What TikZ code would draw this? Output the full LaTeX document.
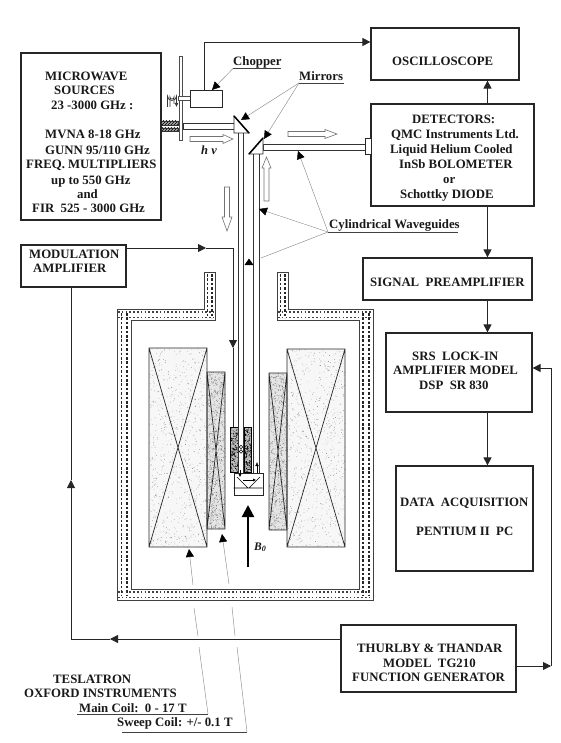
\documentclass[tikz,border=0pt]{standalone}
\usepackage{fontspec}
\setmainfont{Liberation Serif}
\usetikzlibrary{arrows.meta,patterns,calc}
\tikzset{
 boxnode/.style={draw=black!85,line width=1.2pt,inner sep=0pt,fill=white},
 lab/.style={anchor=base west,inner sep=0pt,font=\fontsize{12.8}{13}\selectfont\bfseries,text=black!90},
 flow/.style={draw=black!85,line width=.8pt},
 tip/.style={flow,-{Triangle[length=8pt,width=8pt]}},
 leader/.style={draw=black!45,line width=.45pt},
 leadtip/.style={leader,-{Triangle[length=8pt,width=8pt,black]}},
 ulin/.style={draw=black!75,line width=.9pt},
 wave/.style={draw=black!80,line width=.9pt},
 hollow/.style={draw=black!55,line width=.6pt,fill=white},
 coilx/.style={draw=black!85,line width=.7pt},
 band/.style={draw=black!75,line width=.9pt,fill=white},
 bandd/.style={draw=black!85,line width=1.7pt,dash pattern=on 2.6pt off 1.8pt},
 bandh/.style={draw=black!75,line width=1.8pt,dash pattern=on 1.6pt off 2.2pt},
}
\newcommand{\speck}[7]{%
 \fill[#5] (#1,#2) rectangle (#3,#4);
 \fill[#7] \foreach \i in {1,...,#6} { ({#1+(#3-#1)*rnd},{#2+(#4-#2)*rnd}) rectangle ++(.6,.6) };
}
\begin{document}
\begin{tikzpicture}[x=1pt,y=-1pt]
\useasboundingbox (0,0) rectangle (561,743);
\pgfmathsetseed{42}
% ---------- helper coordinates
\coordinate (xa) at (487.5,0);
\coordinate (xr) at (551,0);
\coordinate (xl) at (71,0);
\coordinate (xm) at (233,0);
% ---------- cryostat
\path[band] (117,600)--(117,309)--(204,309)--(204,272)--(215,272)--(215,320)--(131,320)--(131,589)--(359,589)--(359,320)--(277,320)--(277,272)--(288,272)--(288,309)--(373,309)--(373,600)--cycle;
\foreach \x in {121.5,127,363,369} \draw[bandd] (\x,313)--(\x,596);
\foreach \x in {207.5,212,280.5,285} \draw[bandd] (\x,274)--(\x,318);
\foreach \y in {312,317.5} { \draw[bandh] (118,\y)--(214,\y); \draw[bandh] (278,\y)--(372,\y); }
\foreach \y in {592,597.5} \draw[bandh] (118,\y)--(372,\y);
% ---------- magnet coils
\speck{149}{348}{207}{547}{black!3}{750}{black!40}
\speck{287}{349}{345}{547}{black!3}{750}{black!40}
\speck{207}{372}{225}{529}{black!10}{900}{black!50}
\speck{269}{373}{287}{530}{black!10}{900}{black!50}
\draw[coilx] (149,348) rectangle (207,547) (149,348)--(207,547) (207,348)--(149,547);
\draw[coilx] (287,349) rectangle (345,547) (287,349)--(345,547) (345,349)--(287,547);
\draw[coilx] (207,372) rectangle (225,529) (207,372)--(225,529) (225,372)--(207,529);
\draw[coilx] (269,373) rectangle (287,530) (269,373)--(287,530) (287,373)--(269,530);
% ---------- modulation coils
\speck{230}{427}{238}{472}{black!25}{220}{black}
\speck{244}{427}{251}{472}{black!25}{220}{black}
\draw[draw=black,line width=.9pt] (230,427) rectangle (238,472) (244,427) rectangle (251,472);
\draw[black,line width=.5pt] (241,447) circle (1.8) (241,451.5) circle (1.8);
% ---------- wave guides
\draw[wave,fill=white] (183,123) rectangle (234,129);
\draw[wave] (238,133)--(238,473) (243,133)--(243,473);
\draw[wave] (253,154)--(253,473) (259,154)--(259,473);
\draw[wave,fill=white] (263,144) rectangle (365,150);
% ---------- mirrors
\filldraw[fill=white,draw=black!85,line width=.8pt] (234,116)--(249,133)--(234,133)--cycle;
\draw[black,line width=1.5pt] (234,116)--(249,133);
\filldraw[fill=white,draw=black!85,line width=.8pt] (263,138)--(249,154)--(263,154)--cycle;
\draw[black,line width=1.5pt] (263,138)--(249,154);
% ---------- chopper
\foreach \y/\z in {121/125,128/131} {
 \fill[black!35] (161,\y) rectangle (178,\z);
 \fill[pattern=north east lines,pattern color=black] (161,\y) rectangle (178,\z);
 \draw[black!80,line width=.4pt] (161,\y) rectangle (178,\z);
}
\draw[draw=black!70,line width=.8pt,fill=white] (179,56) rectangle (182,140);
\draw[draw=black!70,line width=.8pt,fill=white] (178,96) rectangle (190,100);
\node[boxnode,line width=.9pt,minimum width=32pt,minimum height=17pt] (chop) at (206,98.5) {};
\draw[black!80,line width=.7pt,-{Latex[length=4pt,width=4pt]}] (167.5,107)--(167.5,96) arc[start angle=180,end angle=0,radius=4.5]--(176.5,107);
\draw[black!80,line width=.7pt] (170,107)--(170,97) arc[start angle=180,end angle=0,radius=2]--(174,104);
% ---------- boxes
\node[boxnode,minimum width=140pt,minimum height=167pt] (micro) at (91,136.5) {};
\node[boxnode,minimum width=148pt,minimum height=52pt] (osc) at (445,54) {};
\node[boxnode,minimum width=163pt,minimum height=102pt] (det) at (452.5,155) {};
\node[boxnode,line width=.9pt,minimum width=6pt,minimum height=16pt] (coup) at (368,146) {};
\node[boxnode,minimum width=169pt,minimum height=42pt] (pre) at (447.5,279) {};
\node[boxnode,minimum width=146pt,minimum height=79pt] (srs) at (459,372.5) {};
\node[boxnode,minimum width=137pt,minimum height=105pt] (daq) at (464.5,518.5) {};
\node[boxnode,minimum width=175pt,minimum height=67pt] (tg) at (428.5,658.5) {};
\node[boxnode,minimum width=105pt,minimum height=42pt] (mod) at (73.5,266) {};
\node[boxnode,line width=.9pt,minimum width=29pt,minimum height=22pt] (samp) at (248.5,484) {};
% sample cell contents
\draw[black,line width=.6pt] (samp.west)++(0,4)--++(29,0) (237,477)--(248,488) (260,477)--(249,488);
\draw[black,line width=.4pt,-{Latex[length=3pt,width=3pt]}] (243,480)--(256,480);
\draw[black,line width=.4pt,-{Latex[length=3pt,width=3pt]}] (240,470)--(240,477);
\draw[black,line width=.4pt,-{Latex[length=4pt,width=3.5pt]}] (257,473)--(257,462);
% ---------- flow connectors
\coordinate (o1) at (204,42);
\draw[tip] (chop.north -| o1)--(o1)--(osc.west |- o1);
\draw[tip] (det.north -| xa)--(osc.south -| xa);
\draw[tip] (det.south -| xa)--(pre.north -| xa);
\draw[tip] (pre.south -| xa)--(srs.north -| xa);
\draw[tip] (srs.south -| xa)--(daq.north -| xa);
\coordinate (m1) at (206,248);
\coordinate (m2) at (233,348);
\coordinate (m3) at (233,427);
\draw[tip] (mod.east |- m1)--(m1);
\draw[tip] (m1)--(xm |- m1)--(m2);
\draw[flow] (m2)--(m3);
\coordinate (t1) at (110,639);
\coordinate (t2) at (71,480);
\draw[tip] (tg.west |- t1)--(t1);
\draw[tip] (t1)--(xl |- t1)--(t2);
\draw[flow] (t2)--(mod.south -| xl);
\coordinate (r1) at (551,666);
\coordinate (r2) at (551,368);
\draw[tip] (tg.east |- r1)--(r1);
\draw[tip] (r1)--(r2)--(srs.east |- r2);
% ---------- B0
\draw[black,line width=2.2pt,-{Triangle[length=12pt,width=12pt]}] (248,567)--(248,505);
\node[lab,font=\fontsize{11.5}{12}\selectfont\bfseries\itshape] (bz) at (254,550) {B\textsubscript{0}};
% ---------- hollow arrows
\path[hollow] (190,136.5)--(223,136.5)--(223,134.5)--(233,139)--(223,143.5)--(223,141.5)--(190,141.5)--cycle;
\path[hollow] (288,131.5)--(325,131.5)--(325,129.5)--(337,134)--(325,138.5)--(325,136.5)--(288,136.5)--cycle;
\path[hollow] (264,201)--(264,168)--(262,168)--(266.5,157)--(271,168)--(269,168)--(269,201)--cycle;
\path[hollow] (224.5,187)--(224.5,217)--(222,217)--(227,231)--(232,217)--(229.5,217)--(229.5,187)--cycle;
\node[lab,font=\fontsize{12.5}{13}\selectfont\bfseries\itshape] (hv) at (201,155) {h ν};
% ---------- labels
\node[lab] (a1) at (45,81) {MICROWAVE};
\node[lab] (a2) at (54,95) {SOURCES};
\node[lab] (a3) at (51,110) {23 -3000 GHz :};
\node[lab] (a4) at (45,139) {MVNA 8-18 GHz};
\node[lab] (a5) at (45,155) {GUNN 95/110 GHz};
\node[lab] (a6) at (26,169) {FREQ. MULTIPLIERS};
\node[lab] (a7) at (51,185) {up to 550 GHz};
\node[lab] (a8) at (77,199) {and};
\node[lab] (a9) at (32,213) {FIR\ \ 525 - 3000 GHz};
\node[lab] (b1) at (392,66) {OSCILLOSCOPE};
\node[lab] (c1) at (412,124) {DETECTORS:};
\node[lab] (c2) at (391,139) {QMC Instruments Ltd.};
\node[lab] (c3) at (390,154) {Liquid Helium Cooled};
\node[lab] (c4) at (399,169) {InSb BOLOMETER};
\node[lab] (c5) at (443,184) {or};
\node[lab] (c6) at (400,199) {Schottky DIODE};
\node[lab] (d1) at (370,286) {SIGNAL\ \ PREAMPLIFIER};
\node[lab] (e1) at (412,360) {SRS\ \ LOCK-IN};
\node[lab] (e2) at (393,374) {AMPLIFIER MODEL};
\node[lab] (e3) at (419,389) {DSP\ \ SR 830};
\node[lab] (f1) at (400,506) {DATA\ \ ACQUISITION};
\node[lab] (f2) at (416,535) {PENTIUM II\ \ PC};
\node[lab] (g1) at (357,652) {THURLBY \& THANDAR};
\node[lab] (g2) at (383,667) {MODEL\ \ TG210};
\node[lab] (g3) at (352,681) {FUNCTION GENERATOR};
\node[lab] (h1) at (29,258) {MODULATION};
\node[lab] (h2) at (33,272) {AMPLIFIER};
\node[lab] (i1) at (233,66) {Chopper};
\node[lab] (i2) at (299,81) {Mirrors};
\node[lab] (i3) at (329,228) {Cylindrical Waveguides};
\node[lab] (j1) at (53,683) {TESLATRON};
\node[lab] (j2) at (24,697) {OXFORD INSTRUMENTS};
\node[lab] (j3) at (79,712) {Main Coil:\ \ 0 - 17 T};
\node[lab] (j4) at (117,726) {Sweep Coil: +/- 0.1 T};
% ---------- underlines and leaders
\coordinate (uc) at (233,68.5);
\coordinate (um) at (299,83);
\coordinate (uw) at (328,232);
\coordinate (um1) at (208,714);
\coordinate (us1) at (247,732);
\draw[ulin] (uc)--(281,68.5);
\draw[ulin] (um)--(344,83);
\draw[ulin] (uw)--(458,232);
\draw[ulin] (77,714)--(um1);
\draw[ulin] (122,732)--(us1);
\draw[leadtip] (uc)--(212,90);
\draw[leadtip] (um)--(241,120);
\draw[leadtip] (um)--(264,139);
\draw[leadtip] (uw)--(259,209);
\draw[leadtip] (uw)--(298,151);
\draw[leader] (uw)--(261,258);
\fill[black] (249,258.5)--(253.5,265)--(244.5,265)--cycle;
\draw[leader] (um1)--(199,647) (198,636)--(194,608);
\draw[leadtip] (193,585)--(189,549);
\draw[leader] (us1)--(237,647) (235,636)--(232,607);
\draw[leadtip] (229,584)--(222,534);
\end{tikzpicture}
\end{document}
